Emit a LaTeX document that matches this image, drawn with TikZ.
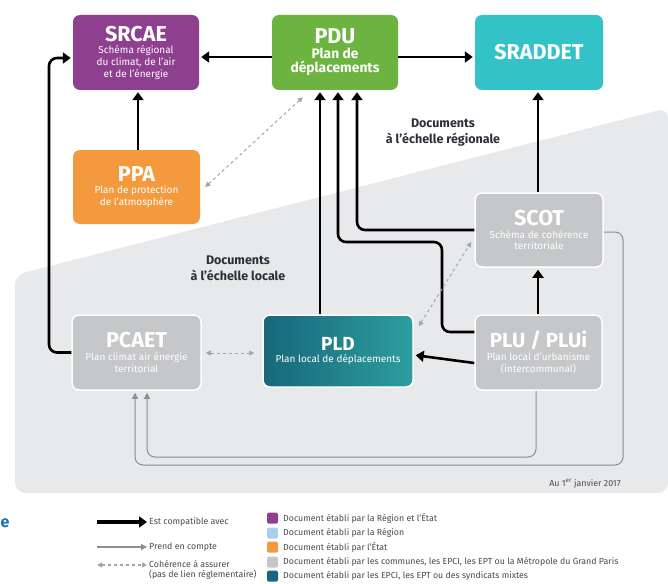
\documentclass[tikz,border=0pt]{standalone}
\usepackage{fontspec}
\setmainfont{Fira Sans}
\usetikzlibrary{arrows.meta}
\definecolor{cPurple}{HTML}{8F3F8F}
\definecolor{cGreen}{HTML}{6CB33F}
\definecolor{cCyan}{HTML}{33C2C7}
\definecolor{cOrange}{HTML}{F39A3F}
\definecolor{cGrey}{HTML}{C6C7C9}
\definecolor{cTealD}{HTML}{17677A}
\definecolor{cTealL}{HTML}{2D9E9F}
\definecolor{cBg}{HTML}{E8E9EB}
\definecolor{cLine}{HTML}{8C8E90}
\definecolor{cDash}{HTML}{A3A5A7}
\definecolor{cLight}{HTML}{A8CDEF}
\definecolor{cText}{HTML}{2E2E3A}
\definecolor{cLeg}{HTML}{4A4A50}
\definecolor{cBlue}{HTML}{1F6FB5}
\newcommand\titlef{\fontsize{21.5}{22}\selectfont\bfseries}
\newcommand\subf{\fontsize{10}{11.8}\selectfont}
\newcommand\legf{\fontsize{8.8}{10}\selectfont}
\begin{document}
\begin{tikzpicture}[x=1pt,y=-1pt,
  box/.style={rounded corners=7pt, inner sep=0pt, text=white, align=center, font=\subf},
  gbox/.style={box, fill=cGrey, draw=white, line width=1.5pt},
  comp/.style={line width=2.6pt, -{Triangle[length=8pt,width=11pt]}, rounded corners=8pt, shorten >=2pt},
  prend/.style={cLine, line width=1pt, -{Triangle[length=6pt,width=6pt]}, rounded corners=8pt, shorten >=2pt},
  coh/.style={cDash, line width=1pt, dash pattern=on 3pt off 3pt, {Triangle[length=5pt,width=5pt]}-{Triangle[length=5pt,width=5pt]}},
  zone/.style={font=\fontsize{12.5}{16}\selectfont\bfseries, text=cText, align=center},
  legtext/.style={font=\legf, text=cLeg, anchor=west, inner sep=0pt},
  legsq/.style={rounded corners=1.5pt, minimum width=11pt, minimum height=11pt, inner sep=0pt}
]
\useasboundingbox (0,0) rectangle (668,583);
\fill[white] (0,0) rectangle (668,583);
% background of local documents
\fill[cBg, rounded corners=10pt] (15,275) -- (668,108) -- (668,493) -- (15,493) -- cycle;

% boxes
\node[box, fill=cPurple, minimum width=126pt, minimum height=75pt] (srcae) at (136,52.5)
  {{\titlef SRCAE}\\[0.5pt] Schéma régional\\du climat, de l'air\\et de l'énergie};
\node[box, fill=cGreen, minimum width=126pt, minimum height=75pt, font=\fontsize{13.8}{14}\selectfont\bfseries] (pdu) at (335,52.5)
  {{\titlef PDU}\\[1pt] Plan de\\déplacements};
\node[box, fill=cCyan, minimum width=128pt, minimum height=75pt] (sraddet) at (539,52.5)
  {{\titlef SRADDET}};
\node[box, fill=cOrange, minimum width=127pt, minimum height=74pt] (ppa) at (136.5,187)
  {{\titlef PPA}\\[1pt] Plan de protection\\de l'atmosphère};
\node[gbox, minimum width=128pt, minimum height=74pt] (scot) at (539,230)
  {{\titlef SCOT}\\[1pt] Schéma de cohérence\\territoriale};
\node[gbox, minimum width=127pt, minimum height=75pt] (plu) at (538.5,352.5)
  {{\fontsize{20.5}{22}\selectfont\bfseries PLU / PLUi}\\[1pt] Plan local d'urbanisme\\(intercommunal)};
\node[gbox, minimum width=129pt, minimum height=75pt] (pcaet) at (136.5,352.5)
  {{\titlef PCAET}\\[1pt] Plan climat air énergie\\territorial};
\node[box, left color=cTealD, right color=cTealL, draw=white, line width=1.5pt, minimum width=150pt, minimum height=72pt] (pld) at (338,351)
  {{\fontsize{19}{20}\selectfont\bfseries PLD}\\[1pt] Plan local de déplacements};

% zone labels
\node[zone] (regT) at (443,133) {Documents\\à l'échelle régionale};
\node[zone] (locT) at (238,268) {Documents\\à l'échelle locale};
\node[font=\fontsize{8.8}{10}\selectfont, text=cLeg] (date) at (585,484) {Au 1\textsuperscript{er} janvier 2017};
\node[font=\fontsize{16}{18}\selectfont\bfseries, text=cBlue, anchor=base west, inner sep=0pt] (frag) at (0.5,527) {e};

% compatibility arrows
\draw[comp] (pdu.west |- 0,57) -- (srcae.east |- 0,57);
\draw[comp] (pdu.east |- 0,57) -- (sraddet.west |- 0,57);
\draw[comp] (ppa.north -| 138,0) -- (srcae.south -| 138,0);
\draw[comp] (scot.north -| 538,0) -- (sraddet.south -| 538,0);
\draw[comp] (plu.north -| 538,0) -- (scot.south -| 538,0);
\draw[comp] (plu.west |- 0,363) -- (pld.east |- 0,355);
\draw[comp] (pcaet.west) -| (49,58) -- (srcae.west |- 0,58);
\draw[comp] (pld.north -| 320,0) -- (pdu.south -| 320,0);
\draw[comp] (plu.west |- 0,332) -| (442,242) -| (pdu.south -| 338,0);
\draw[comp] (scot.west |- 0,230) -| (pdu.south -| 357,0);

% take-into-account arrows
\draw[prend] (scot.east |- 0,232) -| (623,465) -| (pcaet.south -| 135,0);
\draw[prend] (plu.south -| 536,0) |- (147,457) -- (pcaet.south -| 147,0);

% coherence arrows
\draw[coh] ([xshift=31pt,yshift=-7pt]pdu.south west) -- ([xshift=5pt]ppa.east);
\draw[coh] ([xshift=4pt]pcaet.east |- 0,353) -- ([xshift=-8pt]pld.west |- 0,353);
\draw[coh] ([xshift=5pt,yshift=-12pt]pld.north east) -- ([xshift=-3pt,yshift=-12pt]scot.west);

% legend
\node[legtext] (l1) at (149,522) {Est compatible avec};
\node[legtext] (l2) at (149,547) {Prend en compte};
\node[legtext, align=left, anchor=north west] (l3) at (149,560) {Cohérence à assurer\\(pas de lien réglementaire)};
\draw[comp, line width=3.2pt, shorten >=0pt] ([xshift=-52pt]l1.west) -- ([xshift=-2pt]l1.west);
\draw[prend, line width=1.6pt, shorten >=0pt] ([xshift=-52pt]l2.west) -- ([xshift=-2pt]l2.west);
\draw[coh, line width=1.4pt] ([xshift=-52pt,yshift=-5pt]l3.north west) -- ([xshift=-2pt,yshift=-5pt]l3.north west);

\node[legsq, fill=cPurple] (s1) at (272.5,518) {};
\node[legsq, fill=cLight] (s2) at (272.5,533) {};
\node[legsq, fill=cOrange] (s3) at (272.5,547) {};
\node[legsq, fill=cGrey] (s4) at (272.5,562) {};
\node[legsq, fill=cTealD] (s5) at (272.5,576) {};
\node[legtext] (t1) at (283,518) {Document établi par la Région et l'État};
\node[legtext] (t2) at (283,533) {Document établi par la Région};
\node[legtext] (t3) at (283,547) {Document établi par l'État};
\node[legtext] (t4) at (283,562) {Document établi par les communes, les EPCI, les EPT ou la Métropole du Grand Paris};
\node[legtext] (t5) at (283,576) {Document établi par les EPCI, les EPT ou des syndicats mixtes};
\end{tikzpicture}
\end{document}
